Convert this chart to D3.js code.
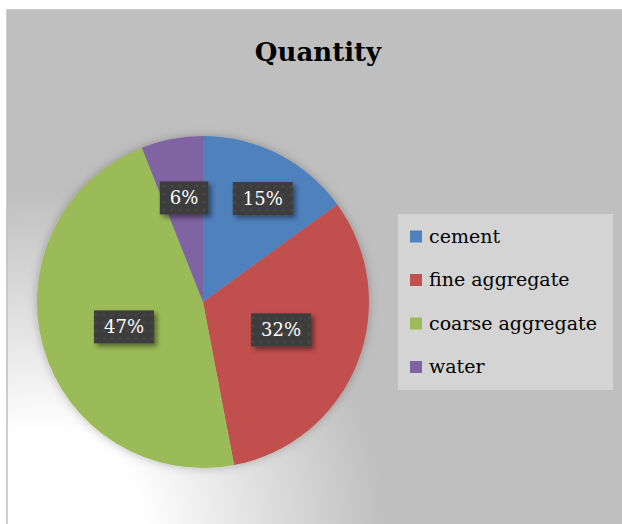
<!DOCTYPE html>
<html>
<head>
<meta charset="utf-8">
<script src="https://cdn.jsdelivr.net/npm/d3@7"></script>
<style>
  html, body { margin: 0; padding: 0; background: #fff; }
  svg { display: block; }
</style>
</head>
<body>
<svg id="chart" width="622" height="524" viewBox="0 0 622 524"></svg>
<script>
// --- Data ---
const categories = ["cement", "fine aggregate", "coarse aggregate", "water"];
const shares = [15, 32, 47, 6];
const colors = ["#4f81bd", "#c0504d", "#9bbb59", "#8064a2"];
const titleText = "Quantity";

const svg = d3.select("#chart");
const width = 622, height = 524;

// --- Layout ---
const area = { x: 7, y: 10, w: width - 7, h: height - 10 };
const center = { x: 203, y: 302 };
const radius = 166;
// label box centers, in units of radius, relative to pie center (Excel "best fit")
const labelPos = [[0.36, -0.623], [0.47, 0.168], [-0.476, 0.15], [-0.114, -0.627]];
const legend = { x: 398, y: 214, w: 215, h: 176, rowStep: 43.5, firstRow: 22.5 };
const serif = "'DejaVu Serif', 'Liberation Serif', serif";

const defs = svg.append("defs");

const bg = defs.append("radialGradient")
  .attr("id", "bgGrad")
  .attr("gradientUnits", "userSpaceOnUse")
  .attr("cx", 40).attr("cy", 535).attr("r", 345);
bg.append("stop").attr("offset", "0").attr("stop-color", "#ffffff");
bg.append("stop").attr("offset", "0.3").attr("stop-color", "#ffffff");
bg.append("stop").attr("offset", "1").attr("stop-color", "#bfbfbf");

const pieShadow = defs.append("filter").attr("id", "pieShadow")
  .attr("x", "-20%").attr("y", "-20%").attr("width", "140%").attr("height", "140%");
pieShadow.append("feDropShadow")
  .attr("dx", 0).attr("dy", 0).attr("stdDeviation", 5)
  .attr("flood-color", "#000").attr("flood-opacity", 0.25);

const boxShadow = defs.append("filter").attr("id", "boxShadow")
  .attr("x", "-30%").attr("y", "-30%").attr("width", "160%").attr("height", "160%");
boxShadow.append("feDropShadow")
  .attr("dx", 3).attr("dy", 3).attr("stdDeviation", 2.5)
  .attr("flood-color", "#000").attr("flood-opacity", 0.45);

const dots = defs.append("pattern")
  .attr("id", "dots")
  .attr("patternUnits", "userSpaceOnUse")
  .attr("width", 8).attr("height", 8);
dots.append("rect").attr("width", 8).attr("height", 8).attr("fill", "#3d3d3d");
dots.append("circle").attr("cx", 4).attr("cy", 4).attr("r", 1.6).attr("fill", "#474747");

// chart area
svg.append("rect")
  .attr("x", area.x).attr("y", area.y)
  .attr("width", area.w + 2).attr("height", area.h + 2)
  .attr("fill", "url(#bgGrad)")
  .attr("stroke", "#bfbfbf").attr("stroke-width", 1.5);

// title
svg.append("text")
  .attr("x", 318).attr("y", 61)
  .attr("text-anchor", "middle")
  .style("font-family", serif)
  .style("font-weight", "bold")
  .style("font-size", "26px")
  .attr("fill", "#000")
  .text(titleText);

// --- Pie ---
const pie = d3.pie().sort(null).value(d => d);
const arcs = pie(shares);
const arc = d3.arc().innerRadius(0).outerRadius(radius);

const pieG = svg.append("g")
  .attr("transform", `translate(${center.x},${center.y})`)
  .attr("filter", "url(#pieShadow)");

pieG.selectAll("path")
  .data(arcs)
  .join("path")
  .attr("d", arc)
  .attr("fill", (d, i) => colors[i]);

// data labels
const total = d3.sum(shares);
const fmt = v => Math.round(v / total * 100) + "%";
const labelG = svg.append("g").attr("transform", `translate(${center.x},${center.y})`);

arcs.forEach((d, i) => {
  const g = labelG.append("g")
    .attr("transform", `translate(${labelPos[i][0] * radius},${labelPos[i][1] * radius})`);
  const t = g.append("text")
    .attr("text-anchor", "middle")
    .attr("dy", "0.35em")
    .style("font-family", serif)
    .style("font-size", "18px")
    .attr("fill", "#ffffff")
    .text(fmt(d.value));
  const tw = t.node().getComputedTextLength();
  const bw = tw + 20, bh = 33;
  g.insert("rect", "text")
    .attr("x", -bw / 2).attr("y", -bh / 2)
    .attr("width", bw).attr("height", bh)
    .attr("fill", "url(#dots)")
    .attr("filter", "url(#boxShadow)");
});

// --- Legend ---
const legG = svg.append("g").attr("transform", `translate(${legend.x},${legend.y})`);
legG.append("rect")
  .attr("width", legend.w).attr("height", legend.h)
  .attr("fill", "#d4d4d4");

const items = legG.selectAll(".item")
  .data(categories)
  .join("g")
  .attr("class", "item")
  .attr("transform", (d, i) => `translate(12,${legend.firstRow + i * legend.rowStep})`);

items.append("rect")
  .attr("x", 0).attr("y", -6)
  .attr("width", 12).attr("height", 12)
  .attr("fill", (d, i) => colors[i]);

items.append("text")
  .attr("x", 19).attr("dy", "0.32em")
  .style("font-family", serif)
  .style("font-size", "19px")
  .attr("fill", "#000")
  .text(d => d);
</script>
</body>
</html>
